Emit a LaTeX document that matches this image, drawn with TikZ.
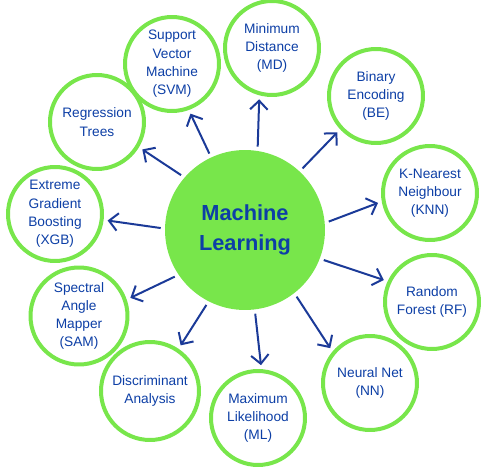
\documentclass[tikz,border=0pt]{standalone}
\usepackage{fontspec}
\setmainfont{Liberation Sans}
\usetikzlibrary{arrows.meta}
\definecolor{mlgreen}{HTML}{78E64B}
\definecolor{mlblue}{HTML}{0D3FA6}
\definecolor{arrowblue}{HTML}{1B3A98}
\tikzstyle{method} = [circle, minimum size=1.88cm, inner sep=0pt, draw=mlgreen,
    line width=0.08cm, fill=white, text=mlblue, align=center,
    font=\fontsize{7.8}{10.4}\selectfont]
\tikzstyle{core} = [circle, minimum size=3.2cm, fill=mlgreen, text=mlblue,
    align=center, font=\fontsize{12.4}{17}\selectfont\bfseries]
\tikzstyle{arrow} = [arrowblue, line width=0.04cm, shorten <=0.08cm,
    shorten >=0.08cm, -{Straight Barb[length=5pt,width=10pt]}]

\begin{document}
\begin{tikzpicture}[x=0.02cm,y=-0.02cm]
        \useasboundingbox (0,0) rectangle (484,470);
        \node (ml) [core] at (245,230) {Machine\\Learning};

        \node (svm) [method] at (172,64) {Support\\Vector\\Machine\\(SVM)};
        \node (md) [method] at (272,48) {Minimum\\Distance\\(MD)};
        \node (be) [method] at (376,96) {Binary\\Encoding\\(BE)};
        \node (knn) [method] at (430,193) {K-Nearest\\Neighbour\\(KNN)};
        \node (rf) [method] at (432,302) {Random\\Forest (RF)};
        \node (nn) [method] at (370,383) {Neural Net\\(NN)};
        \node (mlh) [method] at (258,418) {Maximum\\Likelihood\\(ML)};
        \node (da) [method, minimum size=1.96cm] at (150,391)
            {Discriminant\\Analysis};
        \node (sam) [method, minimum size=1.94cm] at (79,316)
            {Spectral\\Angle\\Mapper\\(SAM)};
        \node (xgb) [method] at (55,214) {Extreme\\Gradient\\Boosting\\(XGB)};
        \node (rt) [method] at (97,122) {Regression\\Trees};

        % start angle on the core, end angle on the method circle
        \foreach \m/\s/\e in {svm/115/290, md/81/255, be/47/223, knn/5/190,
            rf/-21/155, nn/-52/140, mlh/-83/86, da/-117/56, sam/-146/19,
            xgb/179/353, rt/139/329}
            \draw [arrow] (ml.\s) -- (\m.\e);
    \end{tikzpicture}
\end{document}
